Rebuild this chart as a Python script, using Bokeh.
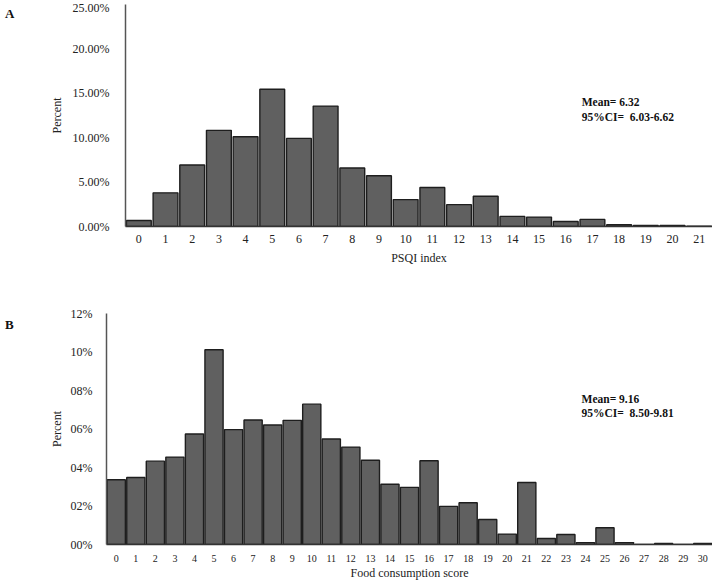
from bokeh.plotting import figure
from bokeh.models import FactorRange, Range1d, FixedTicker, Label, Div
from bokeh.layouts import row
from bokeh.embed import file_html
from bokeh.resources import INLINE

# ---- data ----
psqi_cats = [str(i) for i in range(22)]
psqi_vals = [0.68, 3.79, 6.93, 10.83, 10.11, 15.45, 9.92, 13.56, 6.59, 5.72, 3.03,
             4.39, 2.46, 3.41, 1.14, 1.06, 0.57, 0.80, 0.19, 0.11, 0.11, 0.03]
psqi_ticks = [0, 5, 10, 15, 20, 25]
psqi_tick_labels = ["0.00%", "5.00%", "10.00%", "15.00%", "20.00%", "25.00%"]

fcs_cats = [str(i) for i in range(31)]
fcs_vals = [3.36, 3.48, 4.33, 4.54, 5.74, 10.12, 5.97, 6.47, 6.21, 6.45, 7.29,
            5.48, 5.06, 4.38, 3.13, 2.97, 4.35, 1.98, 2.17, 1.30, 0.54, 3.22,
            0.31, 0.52, 0.10, 0.87, 0.10, 0.0, 0.05, 0.0, 0.05]
fcs_ticks = [0, 2, 4, 6, 8, 10, 12]
fcs_tick_labels = ["00%", "02%", "04%", "06%", "08%", "10%", "12%"]

psqi_stats = ["Mean= 6.32", "95%CI=\u00a0\u00a06.03-6.62"]
fcs_stats = ["Mean= 9.16", "95%CI=\u00a0\u00a08.50-9.81"]

FONT = "Liberation Serif"
FILL = "#606060"
EDGE = "#1e1e1e"


def make_fig(cats, vals, ymax, ticks, tick_labels, xlabel, width, height,
             bl, bt, bb, xfs, ysd, ylsd, xsd, xlsd):
    p = figure(x_range=FactorRange(factors=cats, range_padding=0),
               y_range=Range1d(0, ymax), width=width, height=height,
               output_backend="svg", toolbar_location=None,
               min_border_left=bl, min_border_right=0, min_border_top=bt,
               min_border_bottom=bb)
    p.vbar(x=cats, top=vals, width=0.93, fill_color=FILL, line_color=EDGE,
           line_width=1.4)
    p.xgrid.visible = False
    p.ygrid.visible = False
    p.outline_line_color = None
    p.background_fill_color = "white"
    p.border_fill_color = "white"

    ya = p.yaxis[0]
    ya.ticker = FixedTicker(ticks=ticks)
    ya.major_label_overrides = {t: l for t, l in zip(ticks, tick_labels)}
    ya.major_tick_line_color = None
    ya.minor_tick_line_color = None
    ya.axis_line_color = "#555555"
    ya.axis_line_width = 1.5
    ya.major_label_text_font = FONT
    ya.major_label_text_font_size = "12px"
    ya.major_label_text_color = "#222222"
    ya.major_label_standoff = ysd
    ya.axis_label = "Percent"
    ya.axis_label_text_font = FONT
    ya.axis_label_text_font_style = "normal"
    ya.axis_label_text_font_size = "12px"
    ya.axis_label_text_color = "#222222"
    ya.axis_label_standoff = ylsd

    xa = p.xaxis[0]
    xa.major_tick_line_color = None
    xa.minor_tick_line_color = None
    xa.axis_line_color = "#333333"
    xa.axis_line_width = 1.5
    xa.major_label_text_font = FONT
    xa.major_label_text_font_size = xfs
    xa.major_label_text_color = "#222222"
    xa.major_label_standoff = xsd
    xa.axis_label = xlabel
    xa.axis_label_text_font = FONT
    xa.axis_label_text_font_style = "normal"
    xa.axis_label_text_font_size = "12px"
    xa.axis_label_text_color = "#222222"
    xa.axis_label_standoff = xlsd
    return p


DIV_W = 15
H1, H2 = 278, 294
p1 = make_fig(psqi_cats, psqi_vals, 25, psqi_ticks, psqi_tick_labels,
              "PSQI index", 702 - DIV_W, H1, 115 - DIV_W, 4, 52, "12px", 10, 6, 2, 5)
p2 = make_fig(fcs_cats, fcs_vals, 12, fcs_ticks, fcs_tick_labels,
              "Food consumption score", 702 - DIV_W, H2, 96 - DIV_W, 25, 34, "10px", 8, 4, 4, 1)


def add_text(p, x, y, text, size, align="left"):
    p.add_layout(Label(x=x, y=y, text=text, text_font=FONT,
                       text_font_size=size, text_font_style="bold",
                       text_color="#111111", text_align=align,
                       text_baseline="middle"))


add_text(p1, 17.1, 14.0, psqi_stats[0], "11.5px")
add_text(p1, 17.1, 12.33, psqi_stats[1], "11.5px")
add_text(p2, 24.3, 7.55, fcs_stats[0], "11.5px")
add_text(p2, 24.3, 6.81, fcs_stats[1], "11.5px")


def panel_div(letter, pad_top, h):
    return Div(text=('<div style="font-family:\'Liberation Serif\';font-weight:bold;'
                     'font-size:13px;line-height:15px;color:#111;padding-top:%dpx">%s</div>'
                     % (pad_top, letter)), width=DIV_W, height=h)


top = row(panel_div("A", 1, H1), p1, spacing=0)
bottom = row(panel_div("B", 24, H2), p2, spacing=0)

open("out.html", "w").write(file_html([top, bottom], INLINE))
